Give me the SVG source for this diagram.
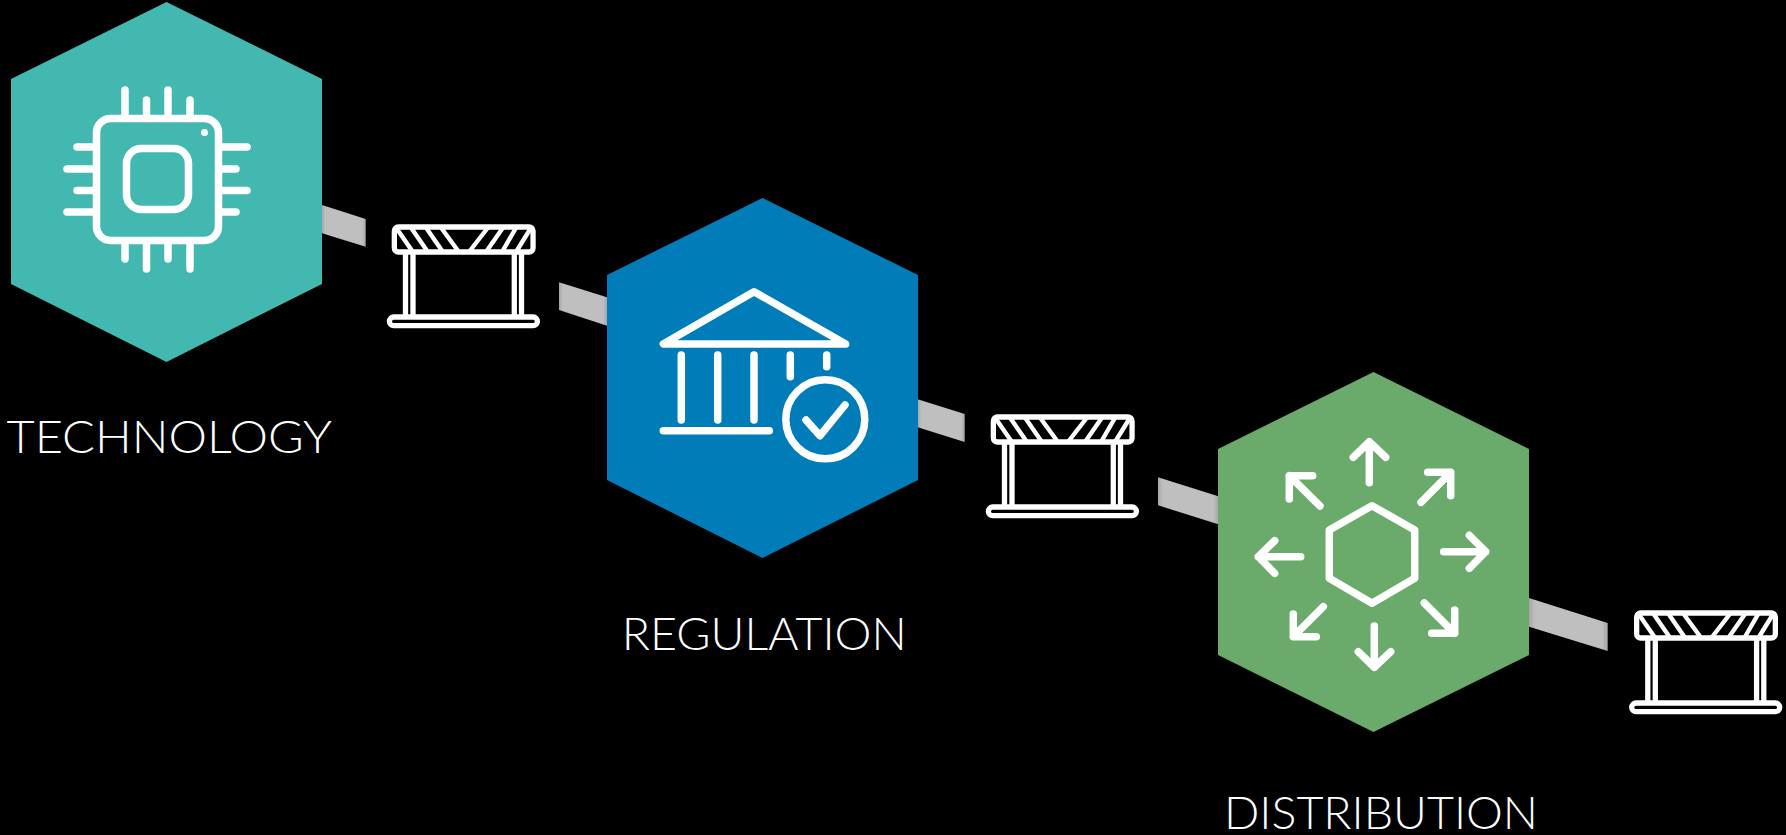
<svg xmlns="http://www.w3.org/2000/svg" xmlns:xlink="http://www.w3.org/1999/xlink" width="1786" height="835" viewBox="0 0 1786 835">
<style>
.ic{fill:none;stroke:#fff;stroke-width:7.5;stroke-linecap:round;stroke-linejoin:round}
.br{fill:none;stroke:#fff;stroke-width:5.3;stroke-linecap:butt;stroke-linejoin:round}
.st{fill:none;stroke:#fff;stroke-width:4.4;stroke-linecap:butt}
.lb{fill:#fff;font-family:"Lato","Open Sans",sans-serif;font-size:46px;font-weight:300}
.bar{fill:url(#barfill)}
</style>
<defs>
<linearGradient id="barfill" x1="0" y1="0" x2="1" y2="0">
<stop offset="0" stop-color="#a6a6a6"/><stop offset="0.08" stop-color="#bfbfbf"/><stop offset="0.92" stop-color="#bfbfbf"/><stop offset="1" stop-color="#a6a6a6"/>
</linearGradient>
<g id="barrier">
<rect class="br" x="394.35" y="227" width="138.7" height="25" rx="4"/>
<rect class="br" x="389.4" y="317" width="148" height="8.7" rx="4.3"/>
<path class="br" d="M405.5 254V315M413 254V315M514.3 254V315M521.5 254V315"/>
<path class="st" d="M395.6 227L412.9 252M410.6 227L427.9 252M425.6 227L442.9 252M440.6 227L458.9 252M488.4 227L469 252M503.4 227L486 252M516.5 227L502 252M531.5 227L516 252"/>
</g>
</defs>
<rect width="1786" height="835" fill="#000"/>
<g id="connectors">
<polygon class="bar" points="322,205 365.7,219 365.7,246.7 322,233.3"/>
<polygon class="bar" points="559,282.3 607,297.3 607,325.7 559,310"/>
<polygon class="bar" points="917.7,399.3 964.7,414 964.7,442 917.7,427.3"/>
<polygon class="bar" points="1158,477.3 1218.3,496.3 1218.3,524.3 1158,505.3"/>
<polygon class="bar" points="1529,598 1607.7,623 1607.7,651 1529,626.7"/>
</g>
<g id="technology">
<polygon points="166.5,2 322,79 322,284 166.5,362 11,284 11,79" fill="#43b8b1"/>
<rect class="ic" x="96.5" y="118.5" width="122" height="122" rx="14"/>
<rect class="ic" x="126.5" y="148.5" width="62" height="61" rx="15"/>
<circle cx="204.5" cy="132.5" r="3.5" fill="#fff"/>
<path class="ic" d="M125 115V90M146.5 115V100M168 115V90M190 115V100M125 244V259M146.5 244V269M168 244V259M190 244V269M93 147H77M93 169H67M93 190.5H77M93 212H67M222 147H247M222 169H236M222 190.5H247M222 212H236"/>
<text class="lb" x="6.5" y="453" textLength="325.5" lengthAdjust="spacingAndGlyphs">TECHNOLOGY</text>
</g>
<g id="regulation">
<polygon points="762.5,198 918,275 918,480 762.5,558 607,480 607,275" fill="#007db8"/>
<path class="ic" d="M754 291.7L663.3 344H845.7ZM681.3 355V420M717.7 355V420M754 355V420M790.3 355V376.7M826.7 355V366.7M663.3 430.7H769.3"/>
<circle class="ic" cx="825.3" cy="419.3" r="39.5"/>
<path class="ic" d="M806 420L820 435.7L845 405"/>
<text class="lb" x="621.7" y="650" textLength="285" lengthAdjust="spacingAndGlyphs">REGULATION</text>
</g>
<g id="distribution">
<polygon points="1373.5,372 1529,449 1529,655 1373.5,732 1218,655 1218,449" fill="#6aaa6a"/>
<polygon class="ic" points="1372,505.7 1414.7,530 1414.7,578.3 1372,603.3 1329.3,578.3 1329.3,530"/>
<path class="ic" d="M1369.3 482.7V441.7M1353.3 457.3L1369.3 441.7L1385.7 457.3M1421 502.3L1450.7 472.3M1427.7 472.3H1450.7V495.7M1443.7 551.7H1485.7M1469.3 535.3L1485.7 551.7L1469.3 568.3M1424.3 603L1454.7 633.3M1454.7 610V633.3H1431.7M1374.3 626V667.3M1358.3 651.7L1374.3 667.3L1390.7 651.7M1323.3 606.7L1293.3 636.7M1293.3 614V636.7H1316.3M1300.7 556.7H1258.3M1274.7 540.7L1258.3 556.7L1274.7 573.3M1320 506L1289.3 475.7M1312.7 475.7H1289.3V499"/>
<text class="lb" x="1224" y="829" textLength="314" lengthAdjust="spacingAndGlyphs">DISTRIBUTION</text>
</g>
<g id="barrier-1"><use xlink:href="#barrier" href="#barrier"/></g>
<g id="barrier-2"><use xlink:href="#barrier" href="#barrier" x="599" y="190"/></g>
<g id="barrier-3"><use xlink:href="#barrier" href="#barrier" x="1242.3" y="386"/></g>
</svg>
